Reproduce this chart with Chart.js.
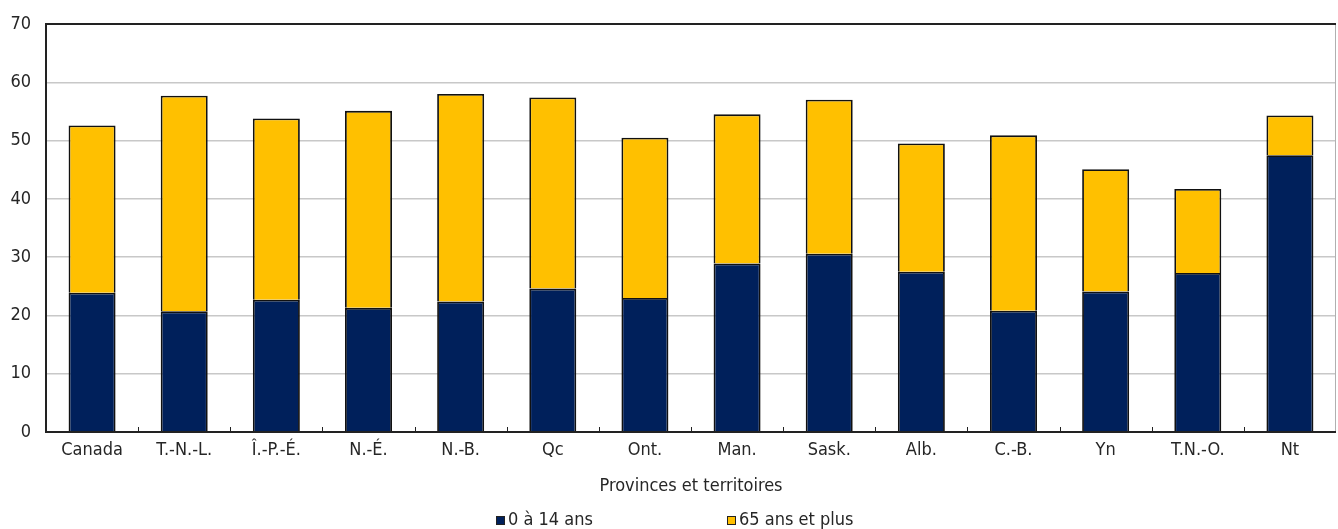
<!DOCTYPE html>
<html><head><meta charset="utf-8">
<script src="https://cdn.jsdelivr.net/npm/chart.js@4"></script>
<style>html,body{margin:0;padding:0;background:#fff}#w{width:1338px;height:529px}</style>
</head><body><div id="w"><canvas id="c" width="1338" height="529"></canvas></div>
<script>
const categories = ["Canada","T.-N.-L.","Î.-P.-É.","N.-É.","N.-B.","Qc","Ont.","Man.","Sask.","Alb.","C.-B.","Yn","T.N.-O.","Nt"];
const children = [23.9, 20.7, 22.7, 21.3, 22.4, 24.6, 23.0, 28.9, 30.6, 27.5, 20.8, 24.1, 27.3, 47.5];
const seniors = [28.7, 37.0, 31.1, 33.8, 35.6, 32.8, 27.5, 25.6, 26.4, 22.0, 30.1, 21.0, 14.4, 6.8];
const yTicks = [0,10,20,30,40,50,60,70];
const seriesNames = ["0 à 14 ans","65 ans et plus"];
const colors = ["#00205B","#FFC000"];
const FONT = '"Liberation Sans Narrow","DejaVu Sans Condensed","Roboto",sans-serif';
const TXT = "#262626";

const framePlugin = {
  id:'frame',
  afterDatasetsDraw(chart){
    const {ctx, chartArea:a, scales:{x}} = chart;
    ctx.save();
    ctx.strokeStyle="#b0b0b0"; ctx.lineWidth=1;
    ctx.beginPath(); ctx.moveTo(a.right-0.5,a.top); ctx.lineTo(a.right-0.5,a.bottom); ctx.stroke();
    ctx.strokeStyle="#222"; ctx.lineWidth=2;
    ctx.beginPath();
    ctx.moveTo(a.left,a.top); ctx.lineTo(a.right,a.top);
    ctx.moveTo(a.left,a.top-1); ctx.lineTo(a.left,a.bottom+1);
    ctx.moveTo(a.left-1,a.bottom); ctx.lineTo(a.right,a.bottom);
    ctx.stroke();
    ctx.lineWidth=1;
    ctx.beginPath();
    for(let i=1;i<categories.length;i++){
      const px = Math.round((x.getPixelForValue(i-1)+x.getPixelForValue(i))/2)+0.5;
      ctx.moveTo(px,a.bottom); ctx.lineTo(px,a.bottom-5);
    }
    ctx.stroke();
    const ly = 520;
    const items=[{x:496,t:seriesNames[0],c:colors[0]},{x:727,t:seriesNames[1],c:colors[1]}];
    ctx.font = '18px '+FONT; ctx.textBaseline='middle'; ctx.fillStyle=TXT;
    items.forEach(it=>{
      ctx.fillStyle=it.c; ctx.fillRect(it.x,ly-4,9,9);
      ctx.strokeStyle="#222"; ctx.lineWidth=1; ctx.strokeRect(it.x+0.5,ly-3.5,8,8);
      ctx.fillStyle=TXT; ctx.fillText(it.t,it.x+12,ly);
    });
    ctx.restore();
  }
};

new Chart(document.getElementById('c'),{
  type:'bar',
  data:{labels:categories,datasets:[
    {label:seriesNames[0],data:children,backgroundColor:colors[0],borderColor:"#111",borderWidth:1.8,barPercentage:0.51,categoryPercentage:1},
    {label:seriesNames[1],data:seniors,backgroundColor:colors[1],borderColor:"#111",borderWidth:1.8,barPercentage:0.51,categoryPercentage:1}
  ]},
  options:{
    responsive:false, animation:false,
    layout:{padding:{top:10,right:2,bottom:32,left:0}},
    plugins:{legend:{display:false},tooltip:{enabled:false}},
    scales:{
      x:{stacked:true,
        grid:{display:false},border:{display:false},
        ticks:{color:TXT,font:{family:FONT,size:18},padding:0,maxRotation:0},
        title:{display:true,text:"Provinces et territoires",color:TXT,font:{family:FONT,size:18},padding:{top:10,bottom:0}},
        afterFit(s){s.height=65;}
      },
      y:{stacked:true,min:0,max:70,
        afterBuildTicks(s){s.ticks=yTicks.map(v=>({value:v}));},
        grid:{color:"#c8c8c8",lineWidth:1.5,drawTicks:false},border:{display:false},
        ticks:{color:TXT,font:{family:FONT,size:18,lineHeight:1},padding:15},
        afterFit(s){s.width=46;}
      }
    }
  },
  plugins:[framePlugin]
});
</script></body></html>
